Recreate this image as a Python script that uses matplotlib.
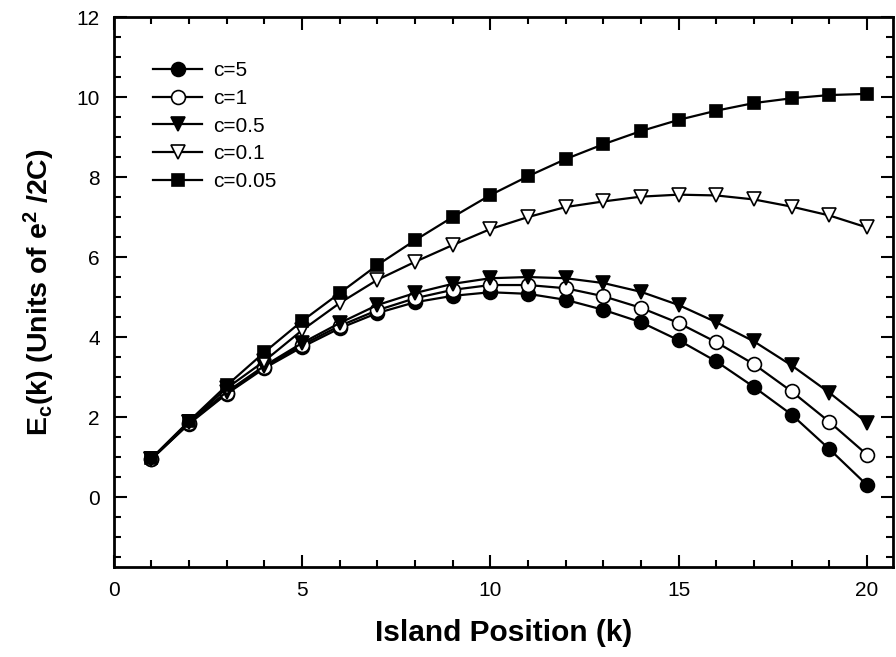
import numpy as np
import matplotlib
matplotlib.use("Agg")
from matplotlib import pyplot as plt
from matplotlib.ticker import MultipleLocator

#-----------------------------------------------------------------------------------------
# data

k = np.arange(1, 21)

e_c5 = [0.95, 1.83, 2.58, 3.22, 3.75, 4.22, 4.6, 4.87, 5.03, 5.12,
        5.08, 4.93, 4.68, 4.37, 3.92, 3.39, 2.75, 2.06, 1.2, 0.3]
e_c1 = [0.95, 1.85, 2.6, 3.25, 3.8, 4.28, 4.67, 4.97, 5.18, 5.3,
        5.3, 5.22, 5.02, 4.73, 4.35, 3.87, 3.32, 2.64, 1.88, 1.06]
e_c05 = [0.95, 1.87, 2.63, 3.28, 3.85, 4.35, 4.8, 5.1, 5.33, 5.47,
         5.5, 5.47, 5.35, 5.13, 4.8, 4.37, 3.89, 3.29, 2.61, 1.86]
e_c01 = [0.95, 1.88, 2.72, 3.4, 4.17, 4.85, 5.43, 5.88, 6.3, 6.7,
         7.0, 7.25, 7.39, 7.51, 7.56, 7.54, 7.44, 7.26, 7.04, 6.74]
e_c005 = [0.97, 1.9, 2.79, 3.62, 4.4, 5.1, 5.8, 6.42, 7.0, 7.55,
          8.02, 8.45, 8.82, 9.15, 9.43, 9.66, 9.85, 9.97, 10.05, 10.08]

labels = ["c=5", "c=1", "c=0.5", "c=0.1", "c=0.05"]

#-----------------------------------------------------------------------------------------

plt.rcParams["font.family"] = ["Liberation Sans", "DejaVu Sans"]
plt.rcParams["mathtext.fontset"] = "custom"
plt.rcParams["mathtext.bf"] = "Liberation Sans:bold"
plt.rcParams["mathtext.rm"] = "Liberation Sans:bold"
plt.rcParams["mathtext.default"] = "bf"

fig = plt.figure(figsize=(8.96, 6.57), dpi=100)
ax = fig.add_axes([0.127, 0.137, 0.87, 0.837])

style = dict(color="black", lw=1.6, mew=1.2, mec="black")
ax.plot(k, e_c5, marker="o", ms=10, mfc="black", label=labels[0], **style)
ax.plot(k, e_c1, marker="o", ms=10, mfc="white", label=labels[1], **style)
ax.plot(k, e_c05, marker="v", ms=10.5, mfc="black", label=labels[2], **style)
ax.plot(k, e_c01, marker="v", ms=10.5, mfc="white", label=labels[3], **style)
ax.plot(k, e_c005, marker="s", ms=9, mfc="black", label=labels[4], **style)

ax.set_xlim(0, 20.7)
ax.set_ylim(-1.75, 12)
ax.xaxis.set_major_locator(MultipleLocator(5))
ax.xaxis.set_minor_locator(MultipleLocator(1))
ax.yaxis.set_major_locator(MultipleLocator(2))
ax.yaxis.set_minor_locator(MultipleLocator(0.5))
ax.tick_params(which="both", direction="in", top=True, right=True,
               labelsize=15, width=1.5, pad=10)
ax.tick_params(which="major", length=9)
ax.tick_params(which="minor", length=5)
for s in ax.spines.values():
    s.set_linewidth(2)

ax.set_xlabel("Island Position (k)", fontsize=21.5, fontweight="bold", labelpad=14)
ax.set_ylabel("E$_c$(k) (Units of e$^2$ /2C)", fontsize=20.5, fontweight="bold", labelpad=14)

ax.legend(loc="upper left", bbox_to_anchor=(0.04, 0.935), borderaxespad=0, frameon=False,
          fontsize=15, handlelength=2.35, labelspacing=0.42, handletextpad=0.5)

fig.savefig("out.png", dpi=100)
